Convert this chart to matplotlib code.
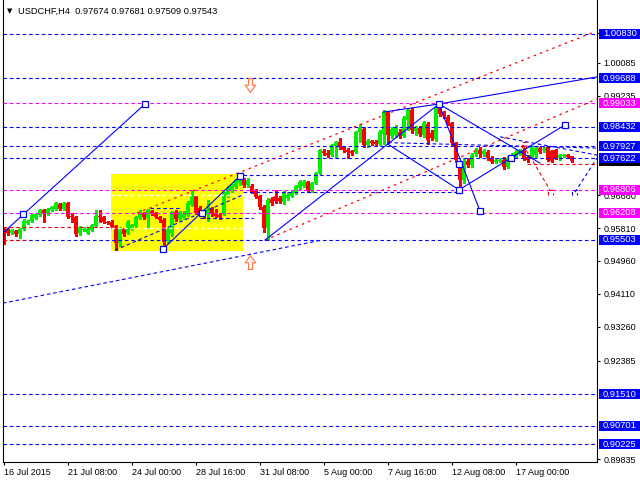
import matplotlib
matplotlib.use("Agg")
import matplotlib.pyplot as plt
from matplotlib.patches import Rectangle
from matplotlib.path import Path
import matplotlib.transforms as mtransforms

plt.rcParams['font.family'] = ['Liberation Sans', 'DejaVu Sans']
plt.rcParams['lines.scale_dashes'] = False

# ---------------- data ----------------
symbol = "USDCHF,H4"
last_ohlc = ["0.97674", "0.97681", "0.97509", "0.97543"]

opens = [0.9581, 0.9576, 0.9568, 0.9573, 0.9566, 0.9579, 0.9594, 0.9599, 0.9607, 0.9615,
         0.9628, 0.9617, 0.9628, 0.9630, 0.9643, 0.9630, 0.9646, 0.9612, 0.9610, 0.9568,
         0.9576, 0.9568, 0.9576, 0.9586, 0.9612, 0.9610, 0.9597, 0.9597, 0.9586, 0.9542,
         0.9579, 0.9568, 0.9579, 0.9586, 0.9607, 0.9620, 0.9607, 0.9625, 0.9620, 0.9610,
         0.9602, 0.9547, 0.9568, 0.9623, 0.9604, 0.9607, 0.9615, 0.9641, 0.9664, 0.9633,
         0.9620, 0.9615, 0.9630, 0.9620, 0.9615, 0.9620, 0.9666, 0.9680, 0.9687, 0.9698,
         0.9705, 0.9692, 0.9690, 0.9680, 0.9664, 0.9635, 0.9581, 0.9656, 0.9664, 0.9659,
         0.9649, 0.9659, 0.9664, 0.9672, 0.9685, 0.9690, 0.9700, 0.9680, 0.9698, 0.9723,
         0.9780, 0.9775, 0.9770, 0.9793, 0.9804, 0.9791, 0.9783, 0.9780, 0.9778, 0.9830,
         0.9837, 0.9796, 0.9806, 0.9804, 0.9798, 0.9824, 0.9881, 0.9819, 0.9822, 0.9830,
         0.9819, 0.9861, 0.9886, 0.9832, 0.9840, 0.9822, 0.9850, 0.9827, 0.9811, 0.9892,
         0.9879, 0.9868, 0.9853, 0.9801, 0.9752, 0.9705, 0.9754, 0.9744, 0.9773, 0.9783,
         0.9773, 0.9778, 0.9762, 0.9752, 0.9754, 0.9757, 0.9739, 0.9762, 0.9767, 0.9775,
         0.9783, 0.9765, 0.9765, 0.9770, 0.9788, 0.9783, 0.9791, 0.9780, 0.9783, 0.9762,
         0.9767, 0.9770, 0.97674]
highs = [0.9584, 0.9581, 0.9579, 0.9576, 0.9581, 0.9604, 0.9602, 0.9617, 0.9620, 0.9630,
         0.9630, 0.9633, 0.9638, 0.9649, 0.9646, 0.9649, 0.9649, 0.9620, 0.9612, 0.9586,
         0.9584, 0.9581, 0.9592, 0.9628, 0.9628, 0.9612, 0.9599, 0.9602, 0.9589, 0.9584,
         0.9581, 0.9602, 0.9592, 0.9612, 0.9628, 0.9623, 0.9630, 0.9628, 0.9623, 0.9612,
         0.9607, 0.9581, 0.9625, 0.9628, 0.9625, 0.9625, 0.9651, 0.9677, 0.9666, 0.9638,
         0.9628, 0.9654, 0.9635, 0.9630, 0.9620, 0.9674, 0.9690, 0.9695, 0.9708, 0.9716,
         0.9711, 0.9711, 0.9695, 0.9682, 0.9666, 0.9641, 0.9659, 0.9661, 0.9680, 0.9664,
         0.9677, 0.9674, 0.9680, 0.9692, 0.9705, 0.9705, 0.9703, 0.9700, 0.9726, 0.9786,
         0.9786, 0.9783, 0.9798, 0.9806, 0.9814, 0.9793, 0.9788, 0.9783, 0.9832, 0.9850,
         0.9842, 0.9811, 0.9809, 0.9809, 0.9835, 0.9886, 0.9884, 0.9842, 0.9848, 0.9837,
         0.9871, 0.9892, 0.9892, 0.9845, 0.9845, 0.9858, 0.9855, 0.9835, 0.9894, 0.9902,
         0.9884, 0.9873, 0.9855, 0.9804, 0.9754, 0.9760, 0.9762, 0.9775, 0.9788, 0.9791,
         0.9786, 0.9783, 0.9767, 0.9762, 0.9762, 0.9765, 0.9767, 0.9775, 0.9783, 0.9786,
         0.9788, 0.9770, 0.9793, 0.9793, 0.9791, 0.9791, 0.9793, 0.9783, 0.9786, 0.9773,
         0.9773, 0.9773, 0.97681]
lows = [0.9540, 0.9563, 0.9566, 0.9560, 0.9555, 0.9576, 0.9592, 0.9597, 0.9604, 0.9612,
        0.9597, 0.9615, 0.9625, 0.9628, 0.9628, 0.9628, 0.9607, 0.9597, 0.9560, 0.9563,
        0.9573, 0.9566, 0.9573, 0.9584, 0.9597, 0.9594, 0.9592, 0.9581, 0.9524, 0.9535,
        0.9560, 0.9566, 0.9576, 0.9584, 0.9604, 0.9604, 0.9584, 0.9615, 0.9607, 0.9597,
        0.9527, 0.9542, 0.9560, 0.9599, 0.9602, 0.9604, 0.9612, 0.9638, 0.9617, 0.9615,
        0.9607, 0.9599, 0.9612, 0.9610, 0.9604, 0.9615, 0.9661, 0.9674, 0.9685, 0.9692,
        0.9687, 0.9687, 0.9672, 0.9659, 0.9630, 0.9571, 0.9550, 0.9641, 0.9646, 0.9646,
        0.9643, 0.9654, 0.9661, 0.9669, 0.9682, 0.9687, 0.9674, 0.9674, 0.9695, 0.9721,
        0.9770, 0.9765, 0.9767, 0.9762, 0.9786, 0.9778, 0.9762, 0.9770, 0.9775, 0.9804,
        0.9791, 0.9791, 0.9796, 0.9793, 0.9796, 0.9798, 0.9801, 0.9814, 0.9817, 0.9814,
        0.9817, 0.9835, 0.9827, 0.9822, 0.9819, 0.9817, 0.9798, 0.9809, 0.9806, 0.9871,
        0.9866, 0.9848, 0.9796, 0.9752, 0.9680, 0.9698, 0.9739, 0.9739, 0.9767, 0.9765,
        0.9767, 0.9757, 0.9749, 0.9749, 0.9752, 0.9734, 0.9736, 0.9757, 0.9765, 0.9770,
        0.9757, 0.9752, 0.9762, 0.9765, 0.9775, 0.9778, 0.9754, 0.9752, 0.9760, 0.9757,
        0.9765, 0.9762, 0.97509]
closes = [0.9573, 0.9568, 0.9576, 0.9566, 0.9579, 0.9599, 0.9599, 0.9615, 0.9617, 0.9628,
          0.9620, 0.9630, 0.9635, 0.9646, 0.9630, 0.9646, 0.9610, 0.9610, 0.9566, 0.9584,
          0.9579, 0.9579, 0.9589, 0.9612, 0.9610, 0.9597, 0.9594, 0.9584, 0.9542, 0.9579,
          0.9566, 0.9597, 0.9589, 0.9610, 0.9623, 0.9610, 0.9628, 0.9617, 0.9610, 0.9602,
          0.9545, 0.9576, 0.9623, 0.9604, 0.9623, 0.9617, 0.9646, 0.9664, 0.9620, 0.9617,
          0.9612, 0.9630, 0.9617, 0.9612, 0.9610, 0.9669, 0.9685, 0.9692, 0.9705, 0.9711,
          0.9692, 0.9705, 0.9674, 0.9661, 0.9635, 0.9581, 0.9654, 0.9646, 0.9651, 0.9651,
          0.9672, 0.9666, 0.9674, 0.9690, 0.9700, 0.9700, 0.9680, 0.9698, 0.9723, 0.9783,
          0.9775, 0.9770, 0.9796, 0.9804, 0.9791, 0.9783, 0.9778, 0.9775, 0.9830, 0.9840,
          0.9796, 0.9806, 0.9801, 0.9798, 0.9830, 0.9881, 0.9822, 0.9837, 0.9842, 0.9819,
          0.9866, 0.9886, 0.9835, 0.9840, 0.9824, 0.9853, 0.9809, 0.9814, 0.9892, 0.9876,
          0.9871, 0.9853, 0.9801, 0.9757, 0.9705, 0.9754, 0.9744, 0.9770, 0.9780, 0.9773,
          0.9780, 0.9762, 0.9752, 0.9757, 0.9757, 0.9739, 0.9762, 0.9770, 0.9778, 0.9780,
          0.9762, 0.9757, 0.9791, 0.9788, 0.9778, 0.9786, 0.9757, 0.9754, 0.9762, 0.9770,
          0.9770, 0.9765, 0.97543]

date_tick_bars = [0, 16, 32, 48, 64, 80, 96, 112, 128]
date_labels = ["16 Jul 2015", "21 Jul 08:00", "24 Jul 00:00", "28 Jul 16:00",
               "31 Jul 08:00", "5 Aug 00:00", "7 Aug 16:00", "12 Aug 08:00", "17 Aug 00:00"]

price_ticks = [1.00860, 1.00085, 0.99235, 0.96660, 0.95810,
               0.94960, 0.94110, 0.93260, 0.92385, 0.89835]
price_tick_labels = ["1.00860", "1.00085", "0.99235", "0.96660", "0.95810",
                     "0.94960", "0.94110", "0.93260", "0.92385", "0.89835"]

level_prices = [1.00830, 0.99688, 0.99033, 0.98432, 0.97927, 0.97622,
                0.96806, 0.96208, 0.95503, 0.91510, 0.90701, 0.90225]
level_labels = ["1.00830", "0.99688", "0.99033", "0.98432", "0.97927", "0.97622",
                "0.96806", "0.96208", "0.95503", "0.91510", "0.90701", "0.90225"]
level_kinds = ["b", "b", "m", "b", "b", "b", "m", "m", "b", "b", "b", "b"]

# analysis objects: (bar index, price)
yellow_box = [(26.875, 0.95218), (59.875, 0.97209)]
blue_solid = [
    [(0.125, 0.9571), (35.375, 0.9902)],
    [(39.875, 0.9527), (59.125, 0.9716)],
    [(65.375, 0.9550), (108.875, 0.9902)],
    [(108.875, 0.9902), (148.375, 0.9972)],
    [(94.875, 0.9881), (108.875, 0.9902)],
    [(96.125, 0.9798), (113.875, 0.9680)],
    [(108.875, 0.9902), (119.125, 0.9625)],
    [(108.875, 0.9902), (134.125, 0.9749)],
    [(113.875, 0.9680), (140.375, 0.9848)],
]
squares = [(4.875, 0.9617), (35.375, 0.9902), (39.875, 0.9527), (49.625, 0.9620),
           (59.125, 0.9716), (108.875, 0.9902), (113.875, 0.9747), (113.875, 0.9680),
           (119.125, 0.9625), (126.875, 0.9762), (140.375, 0.9848)]
blue_dashed = [
    [(-0.125, 0.9387), (79.625, 0.9550)],
    [(27.875, 0.9524), (59.875, 0.9667)],
    [(36.625, 0.9633), (44.125, 0.9633)],
    [(49.125, 0.9607), (62.375, 0.9607)],
    [(59.875, 0.9718), (113.875, 0.9718)],
    [(59.875, 0.9674), (113.875, 0.9674)],
    [(96.125, 0.9802), (148.375, 0.9788)],
    [(124.125, 0.9817), (148.375, 0.9770)],
    [(142.875, 0.9674), (148.375, 0.9762)],
    [(142.125, 0.9667), (142.125, 0.9680), (143.375, 0.9680), (143.375, 0.9667)],
]
white_dashed = [
    [(26.875, 0.9667), (59.875, 0.9667)],
    [(26.875, 0.9581), (59.875, 0.9581)],
]
red_dotted = [
    [(33.375, 0.9620), (147.125, 1.0086)],
    [(65.375, 0.9550), (148.375, 0.9915)],
]
red_dashed = [
    [(-0.125, 0.9584), (26.625, 0.9584)],
    [(-0.125, 0.9550), (6.625, 0.9550)],
    [(129.5, 0.9788), (129.5, 0.9804), (130.6, 0.9804), (130.6, 0.9788)],
    [(129.875, 0.9796), (136.625, 0.9680)],
    [(136.125, 0.9667), (136.125, 0.9680), (137.375, 0.9680), (137.375, 0.9667)],
    [(130.875, 0.9747), (148.375, 0.9747)],
]
arrows_down = [(61.625, 0.99511)]
arrows_up = [(61.625, 0.94933)]

# ---------------- style ----------------
BLUE = "#0000FF"
MAG = "#FF00FF"
GREEN = "#00EE00"
RED = "#FF0000"
W, H = 640, 480
fig = plt.figure(figsize=(6.4, 4.8), dpi=100)
ax = fig.add_axes([3 / W, 18 / H, 594 / W, 462 / H])
ax.set_xlim(-0.125, 148.375)
ax.set_ylim(0.89762, 1.01709)

# yellow rectangle
(x0, y0), (x1, y1) = yellow_box
ax.add_patch(Rectangle((x0, y0), x1 - x0, y1 - y0, facecolor="#FFFF00", edgecolor="none", zorder=0))

# candles
n = len(opens)
xs = list(range(n))
cols = [GREEN if closes[i] >= opens[i] else RED for i in range(n)]
bottoms = [min(opens[i], closes[i]) for i in range(n)]
heights = [max(abs(closes[i] - opens[i]), 0.00028) for i in range(n)]
ax.vlines(xs, lows, highs, colors=cols, lw=1.0, zorder=2, antialiased=False)
ax.bar(xs, heights, bottom=bottoms, width=0.75, color=cols, linewidth=0, zorder=2,
       antialiased=False)

# horizontal levels
dash = (0, (2.6, 2.0))
for p, k in zip(level_prices, level_kinds):
    ax.axhline(p, color=BLUE if k == "b" else MAG, lw=0.8, ls=dash, zorder=3)

def draw(seglist, **kw):
    for seg in seglist:
        ax.plot([q[0] for q in seg], [q[1] for q in seg], **kw)

draw(white_dashed, color="white", lw=1.0, ls=dash, zorder=3)
draw(blue_dashed, color=BLUE, lw=0.8, ls=dash, zorder=3)
draw(red_dashed, color=RED, lw=0.8, ls=dash, zorder=3)
draw(red_dotted, color=RED, lw=0.9, ls=(0, (1.8, 3.0)), zorder=3)
draw(blue_solid, color=BLUE, lw=0.8, zorder=3)
ax.plot([s[0] for s in squares], [s[1] for s in squares], ls="none", marker="s", ms=4.2,
        mfc="white", mec=BLUE, mew=0.9, zorder=4)

# hollow arrows
up_verts = [(-0.28, -1.0), (0.28, -1.0), (0.28, -0.05), (0.75, -0.05), (0.0, 1.0),
            (-0.75, -0.05), (-0.28, -0.05), (-0.28, -1.0)]
up_path = Path(up_verts, closed=True)
down_path = Path([(vx, -vy) for vx, vy in up_verts], closed=True)
ax.plot([a[0] for a in arrows_up], [a[1] for a in arrows_up], ls="none", marker=up_path,
        ms=10, mfc="none", mec="#FF7A50", mew=0.9, zorder=4)
ax.plot([a[0] for a in arrows_down], [a[1] for a in arrows_down], ls="none", marker=down_path,
        ms=10, mfc="none", mec="#FF7A50", mew=0.9, zorder=4)

# axes styling
for s in ["left", "right", "bottom"]:
    ax.spines[s].set_linewidth(0.8)
    ax.spines[s].set_color("black")
ax.spines["top"].set_visible(False)
ax.yaxis.tick_right()
ax.set_yticks(price_ticks)
ax.set_yticklabels(price_tick_labels)
ax.tick_params(axis="y", direction="out", length=2.5, width=0.8, pad=2, labelsize=6.5)
ax.set_xticks(date_tick_bars)
ax.set_xticklabels(date_labels)
ax.tick_params(axis="x", direction="out", length=2.5, width=0.8, pad=1.5, labelsize=6.5)
for lab in ax.get_xticklabels():
    lab.set_horizontalalignment("left")

# right-side price boxes
trans = mtransforms.blended_transform_factory(ax.transAxes, ax.transData)
bx0 = (599 - 3) / 594
bw = (640 - 599) / 594
half = 5 * (1.01709 - 0.89762) / 462
# bid box (black), mostly covered by the level boxes
ax.add_patch(Rectangle((bx0, float(last_ohlc[3]) - half), bw, 2 * half, transform=trans,
                       facecolor="black", edgecolor="none", clip_on=False, zorder=8))
for p, lab, k in zip(level_prices, level_labels, level_kinds):
    c = BLUE if k == "b" else MAG
    ax.add_patch(Rectangle((bx0, p - half), bw, 2 * half, transform=trans,
                           facecolor=c, edgecolor="none", clip_on=False, zorder=10))
    ax.text((603 - 3) / 594, p, lab, transform=trans, color="white", fontsize=6.7,
            va="center", ha="left", clip_on=False, zorder=11)

# header
fig.text(7 / W, 1 - 11 / H, "\u25bc", fontsize=5, va="center", ha="left", family=["DejaVu Sans"])
fig.text(18 / W, 1 - 11 / H, symbol + "  " + " ".join(last_ohlc), fontsize=6.7, va="center", ha="left")

fig.savefig("out.png", dpi=100)
